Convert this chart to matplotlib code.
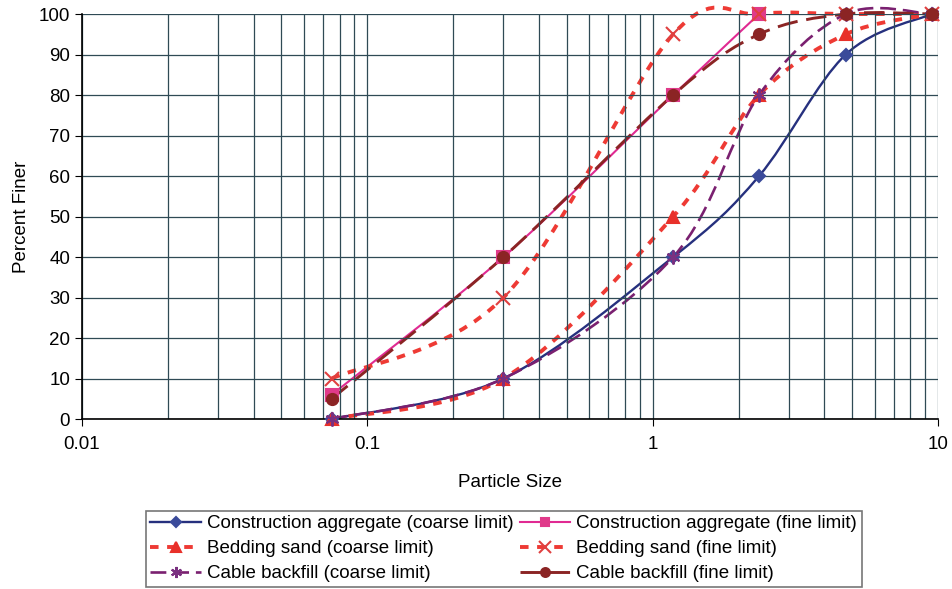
import numpy as np
import matplotlib
matplotlib.use("Agg")
import matplotlib.pyplot as plt
from matplotlib.path import Path
from matplotlib.patches import PathPatch
from matplotlib.lines import Line2D
from matplotlib.ticker import LogLocator, FixedLocator, NullFormatter

plt.rcParams['font.family'] = ['Liberation Sans', 'DejaVu Sans']

# sieve sizes (mm) and percent finer for each grading envelope
agg_coarse_x = [0.075, 0.3, 1.18, 2.36, 4.75, 9.5]
agg_coarse_y = [0, 10, 40, 60, 90, 100]
agg_fine_x = [0.075, 0.3, 1.18, 2.36]
agg_fine_y = [6, 40, 80, 100]
sand_coarse_x = [0.075, 0.3, 1.18, 2.36, 4.75, 9.5]
sand_coarse_y = [0, 10, 50, 80, 95, 100]
sand_fine_x = [0.075, 0.3, 1.18, 2.36, 4.75, 9.5]
sand_fine_y = [10, 30, 95, 100, 100, 100]
cable_coarse_x = [0.075, 0.3, 1.18, 2.36, 4.75, 9.5]
cable_coarse_y = [0, 10, 40, 80, 100, 100]
cable_fine_x = [0.075, 0.3, 1.18, 2.36, 4.75, 9.5]
cable_fine_y = [5, 40, 80, 95, 100, 100]

labels = ["Construction aggregate (coarse limit)", "Construction aggregate (fine limit)",
          "Bedding sand (coarse limit)", "Bedding sand (fine limit)",
          "Cable backfill (coarse limit)", "Cable backfill (fine limit)"]


def smooth_path(xs, ys):
    # excel-style smoothed line: catmull-rom bezier in (log x, y)
    u = np.log10(xs)
    v = np.array(ys, dtype=float)
    pts = np.column_stack([u, v])
    n = len(pts)
    verts = [pts[0]]
    codes = [Path.MOVETO]
    for i in range(n - 1):
        p0 = pts[i - 1] if i > 0 else pts[i]
        p1 = pts[i]
        p2 = pts[i + 1]
        p3 = pts[i + 2] if i + 2 < n else pts[i + 1]
        c1 = p1 + (p2 - p0) / 6
        c2 = p2 - (p3 - p1) / 6
        verts += [c1, c2, p2]
        codes += [Path.CURVE4] * 3
    verts = np.array(verts)
    verts[:, 0] = 10 ** verts[:, 0]
    return Path(verts, codes)


fs = 13.5
fig = plt.figure(figsize=(9.52, 5.89), dpi=100)
ax = fig.add_axes([0.0861, 0.2886, 0.8992, 0.6876])
ax.set_xscale('log')
ax.set_xlim(0.01, 10)
ax.set_ylim(0, 100)

grid_c = '#2f4a55'
ax.xaxis.set_major_locator(FixedLocator([0.01, 0.1, 1, 10]))
ax.xaxis.set_minor_locator(LogLocator(base=10, subs=np.arange(2, 10)))
ax.xaxis.set_minor_formatter(NullFormatter())
ax.set_xticklabels(['0.01', '0.1', '1', '10'])
ax.set_yticks(np.arange(0, 101, 10))
ax.grid(True, which='both', axis='x', color=grid_c, lw=0.9)
ax.grid(True, which='major', axis='y', color=grid_c, lw=0.9)
ax.tick_params(axis='x', which='minor', length=0)
ax.tick_params(axis='x', which='major', length=5, direction='out', pad=7, labelsize=fs)
ax.tick_params(axis='y', length=5, direction='out', labelsize=fs)
for s in ['top', 'right']:
    ax.spines[s].set_visible(False)
ax.spines['left'].set_linewidth(1.2)
ax.spines['bottom'].set_linewidth(1.2)

ax.set_xlabel('Particle Size', fontsize=fs, labelpad=15)
ax.set_ylabel('Percent Finer', fontsize=fs, labelpad=6)

styles = [
    dict(x=agg_coarse_x, y=agg_coarse_y, color='#26307e', lw=1.7, ls='-', marker='D', ms=6, mfc='#3a4a9a'),
    dict(x=agg_fine_x, y=agg_fine_y, color='#e02a92', lw=1.5, ls='-', marker='s', ms=8, mfc='#e03a8a'),
    dict(x=sand_coarse_x, y=sand_coarse_y, color='#ee3a34', lw=2.8, ls=(0, (2.2, 2.2)), marker='^', ms=9, mfc='#e8302a'),
    dict(x=sand_fine_x, y=sand_fine_y, color='#ee3a34', lw=2.8, ls=(0, (2.2, 2.2)), marker='x', ms=10, mfc='#e04040'),
    dict(x=cable_coarse_x, y=cable_coarse_y, color='#7a2070', lw=1.9, ls=(0, (6, 2.6)), marker=(6, 2, 0), ms=10, mfc='#7a3080'),
    dict(x=cable_fine_x, y=cable_fine_y, color='#8b2424', lw=2.1, ls=(0, (7, 3)), marker='o', ms=8, mfc='#8b2424'),
]

handles = []
for st, lab in zip(styles, labels):
    patch = PathPatch(smooth_path(st['x'], st['y']), fill=False, edgecolor=st['color'],
                      lw=st['lw'], linestyle=st['ls'], transform=ax.transData,
                      capstyle='butt', clip_on=False)
    ax.add_patch(patch)
    ax.plot(st['x'], st['y'], linestyle='none', marker=st['marker'], ms=st['ms'],
            color=st['mfc'], mec=st['mfc'], mew=1.5, clip_on=False, zorder=4)
    handles.append(Line2D([], [], color=st['color'], lw=st['lw'], ls=st['ls'],
                          marker=st['marker'], ms=st['ms'] * 0.8, mfc=st['mfc'],
                          mec=st['mfc'], mew=1.5))

order = [0, 2, 4, 1, 3, 5]
leg = fig.legend([handles[i] for i in order], [labels[i] for i in order],
                 ncol=2, loc='lower center', bbox_to_anchor=(0.529, 0.0),
                 fontsize=fs, frameon=True, fancybox=False, edgecolor='#555555',
                 handlelength=2.7, handletextpad=0.3, columnspacing=0.35,
                 labelspacing=0.42, borderpad=0.25, borderaxespad=0.1)
leg.get_frame().set_linewidth(1.2)

fig.savefig('out.png', dpi=100)
